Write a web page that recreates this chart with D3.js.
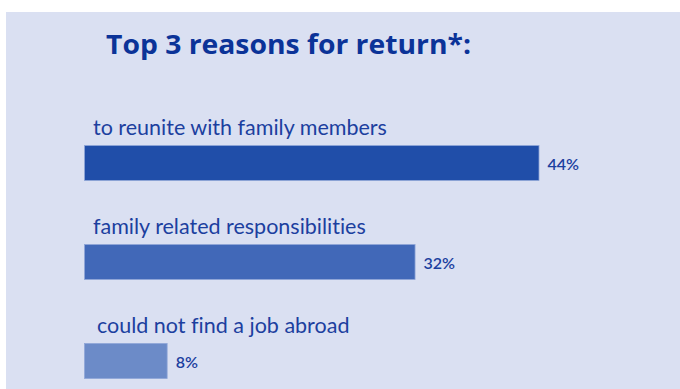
<!DOCTYPE html>
<html>
<head>
<meta charset="utf-8">
<script src="https://cdn.jsdelivr.net/npm/d3@7"></script>
<style>
  html, body { margin: 0; padding: 0; background: #ffffff; }
  svg { display: block; }
  text { font-variant-ligatures: none; }
</style>
</head>
<body>
<div id="chart"></div>
<script>
// Reasons for returning home, share of respondents (%)
const reasons = [
  "to reunite with family members",
  "family related responsibilities",
  "could not find a job abroad"
];
const shares = [44, 32, 8];
const barColors = ["#204ea9", "#4168b8", "#6c8bc8"];
const title = "Top 3 reasons for return*:";

const W = 680, H = 389;
const svg = d3.select("#chart").append("svg")
  .attr("width", W).attr("height", H);

// panel background
svg.append("rect")
  .attr("x", 6).attr("y", 12)
  .attr("width", W - 6).attr("height", H - 12)
  .attr("fill", "#dae0f2");

svg.append("text")
  .attr("x", 106).attr("y", 54)
  .attr("fill", "#0b3398")
  .attr("font-family", "'Open Sans', Lato, sans-serif")
  .attr("font-weight", 700)
  .attr("font-size", 26)
  .attr("textLength", 365)
  .attr("lengthAdjust", "spacingAndGlyphs")
  .text(title);

const data = reasons.map((r, i) => ({ reason: r, value: shares[i], color: barColors[i] }));

const x = d3.scaleLinear().domain([0, 44]).range([84.5, 539]);
const y = d3.scaleBand().domain(reasons).range([145.5, 378.5])
  .paddingInner(0.6465).paddingOuter(0);

const rows = svg.selectAll("g.row").data(data).join("g").attr("class", "row");

rows.append("rect")
  .attr("x", x(0))
  .attr("y", d => y(d.reason))
  .attr("width", d => x(d.value) - x(0))
  .attr("height", y.bandwidth())
  .attr("fill", d => d.color)
  .attr("stroke", "#8fa6d8")
  .attr("stroke-width", 0.8);

rows.append("text")
  .attr("x", (d, i) => i === 2 ? 97 : 93)
  .attr("y", d => y(d.reason) - 10.5)
  .attr("fill", "#1c3f9f")
  .attr("font-family", "Lato, 'Open Sans', sans-serif")
  .attr("font-size", 21.5)
  .text(d => d.reason);

rows.append("text")
  .attr("x", d => x(d.value) + 8.5)
  .attr("y", d => y(d.reason) + y.bandwidth() / 2 + 6.8)
  .attr("fill", "#1c3f9f")
  .attr("font-family", "Lato, 'Open Sans', sans-serif")
  .attr("font-weight", 600)
  .attr("font-size", 16)
  .text(d => d.value + "%");
</script>
</body>
</html>
